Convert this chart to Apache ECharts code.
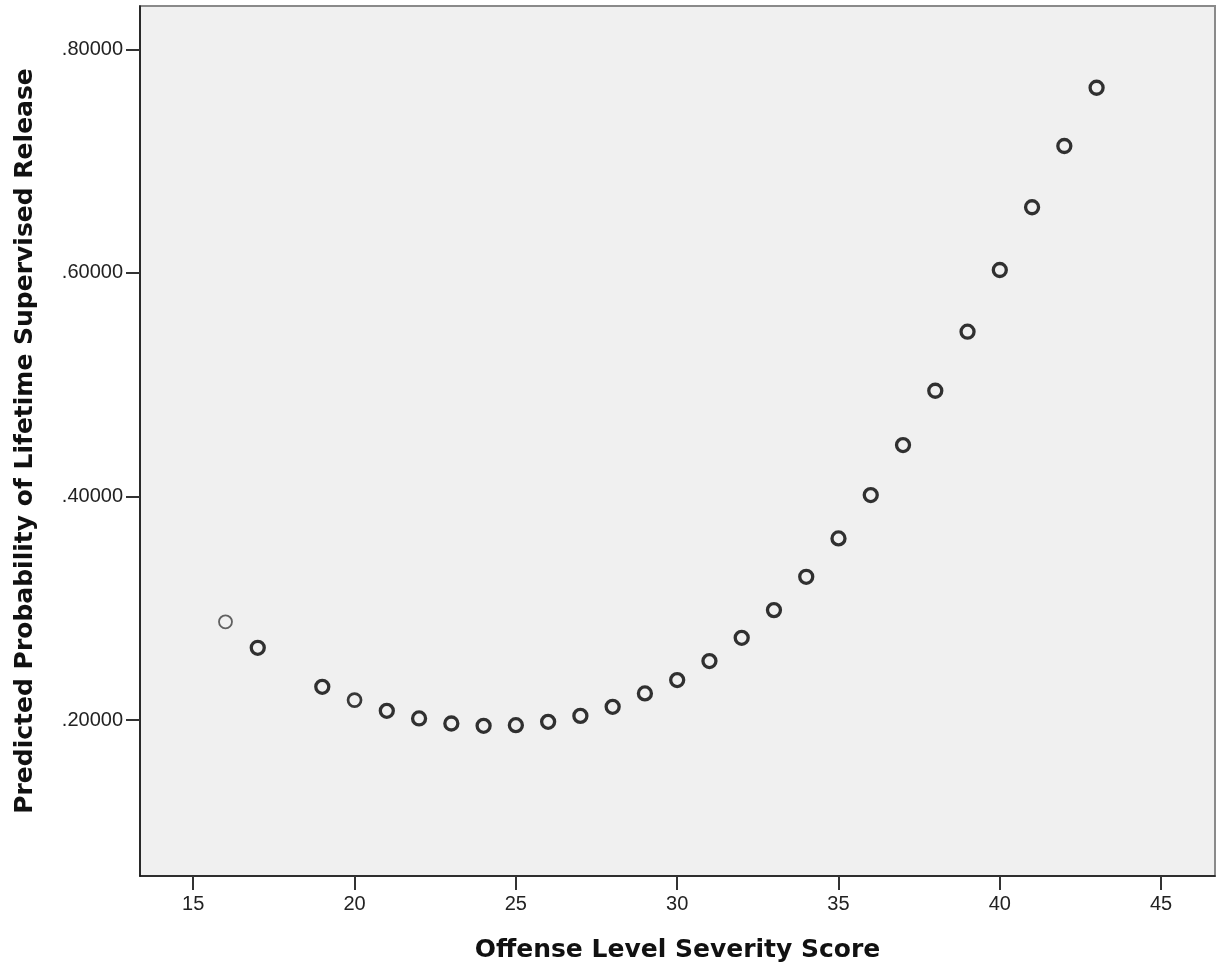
<!DOCTYPE html>
<html>
<head>
<meta charset="utf-8">
<title>Predicted Probability of Lifetime Supervised Release</title>
<script src="https://cdn.jsdelivr.net/npm/echarts@6/dist/echarts.min.js"></script>
<style>
  html, body { margin: 0; padding: 0; background: #ffffff; }
  #chart { width: 1225px; height: 972px; }
</style>
</head>
<body>
<div id="chart"></div>
<script>
// Offense level severity scores (x) and predicted probabilities (y)
const offenseLevels = [16, 17, 19, 20, 21, 22, 23, 24, 25, 26, 27, 28, 29, 30,
  31, 32, 33, 34, 35, 36, 37, 38, 39, 40, 41, 42, 43];
const predictedProb = [0.2879, 0.2647, 0.2298, 0.2179, 0.2083, 0.2015, 0.1970,
  0.1949, 0.1955, 0.1985, 0.2038, 0.2119, 0.2239, 0.2358, 0.2528, 0.2736,
  0.2984, 0.3282, 0.3625, 0.4013, 0.4460, 0.4946, 0.5474, 0.6026, 0.6587,
  0.7135, 0.7656];

// Tick values
const xTicks = [15, 20, 25, 30, 35, 40, 45];
const yTicks = [0.2, 0.4, 0.6, 0.8];

const points = offenseLevels.map((x, i) => {
  const item = { value: [x, predictedProb[i]] };
  if (x === 16) {
    item.itemStyle = { borderColor: '#3c3c3c', borderWidth: 1.8 };
  } else if (x === 20) {
    item.itemStyle = { borderColor: '#0a0a0a', borderWidth: 2.7 };
  }
  return item;
});

const chart = echarts.init(document.getElementById('chart'), null, { renderer: 'canvas' });

chart.setOption({
  animation: false,
  backgroundColor: '#ffffff',
  grid: {
    left: 140, top: 6, right: 10, bottom: 96,
    show: true,
    backgroundColor: '#f0f0f0',
    borderColor: '#8a8a8a',
    borderWidth: 2
  },
  xAxis: {
    type: 'value',
    min: 13.35,
    max: 46.67,
    name: 'Offense Level Severity Score',
    nameLocation: 'middle',
    nameGap: 62,
    nameTextStyle: {
      fontFamily: 'DejaVu Sans', fontWeight: 'bold', fontSize: 25, color: '#111'
    },
    splitLine: { show: false },
    axisLine: { show: true, onZero: false, lineStyle: { color: '#111', width: 1.6 } },
    axisTick: {
      show: true, length: 14, customValues: xTicks,
      lineStyle: { color: '#333', width: 2 }
    },
    axisLabel: {
      customValues: xTicks, margin: 18,
      fontFamily: 'Liberation Sans, Arial', fontSize: 20, color: '#222'
    }
  },
  yAxis: {
    type: 'value',
    min: 0.0606,
    max: 0.8387,
    name: 'Predicted Probability of Lifetime Supervised Release',
    nameLocation: 'middle',
    nameGap: 102,
    nameTextStyle: {
      fontFamily: 'DejaVu Sans', fontWeight: 'bold', fontSize: 25, color: '#111'
    },
    splitLine: { show: false },
    axisLine: { show: true, onZero: false, lineStyle: { color: '#111', width: 1.6 } },
    axisTick: {
      show: true, length: 14, customValues: yTicks,
      lineStyle: { color: '#333', width: 2 }
    },
    axisLabel: {
      customValues: yTicks, margin: 17,
      padding: [5, 0, 0, 0],
      fontFamily: 'Liberation Sans, Arial', fontSize: 20, color: '#222',
      formatter: v => '.' + Math.round(v * 100000).toString().padStart(5, '0')
    }
  },
  series: [{
    type: 'scatter',
    symbol: 'circle',
    symbolSize: 13,
    itemStyle: { color: 'rgba(0,0,0,0)', borderColor: '#000', borderWidth: 3.3 },
    data: points
  }]
});
</script>
</body>
</html>
